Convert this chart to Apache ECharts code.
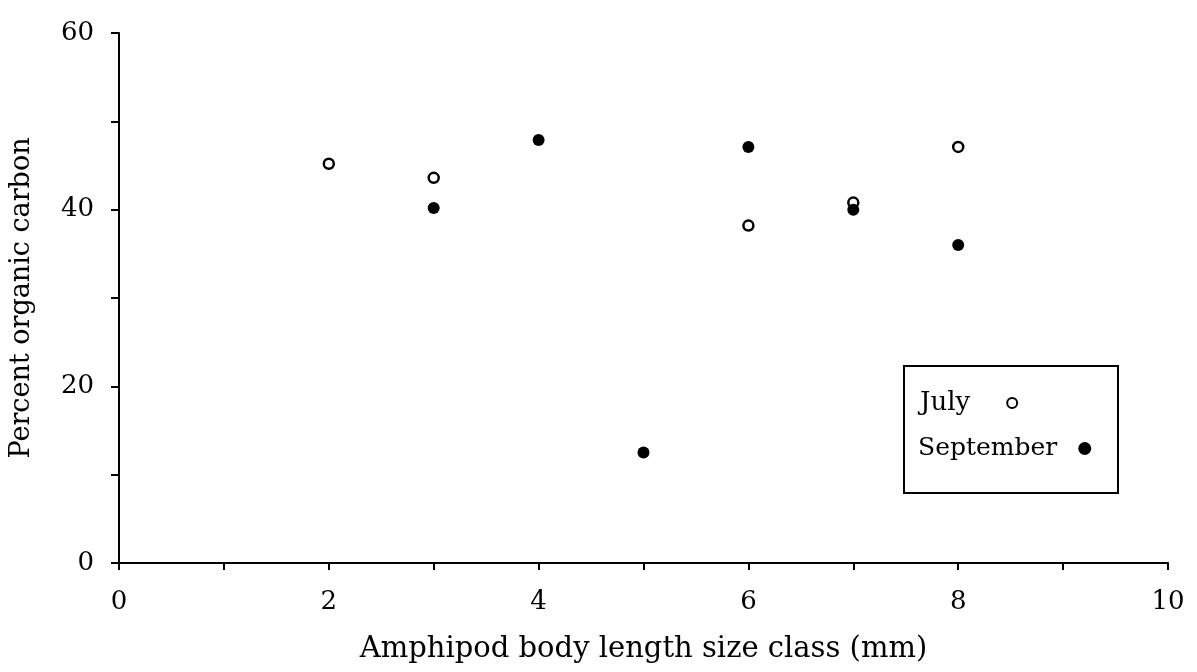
<!DOCTYPE html>
<html><head><meta charset="utf-8">
<script src="https://cdn.jsdelivr.net/npm/echarts@6/dist/echarts.min.js"></script>
<style>html,body{margin:0;padding:0;background:#fff}#c{width:1197px;height:672px}</style>
</head><body><div id="c"></div>
<script>
const julyX = [2, 3, 6, 7, 8];
const julyY = [45.2, 43.6, 38.2, 40.8, 47.1];
const septX = [3, 4, 5, 6, 7, 8];
const septY = [40.2, 47.9, 12.5, 47.1, 40.0, 36.0];
const xTickLabels = ['0', '2', '4', '6', '8', '10'];
const yTickLabels = ['0', '20', '40', '60'];

const FONT = '"DejaVu Serif", "Liberation Serif", serif';
const chart = echarts.init(document.getElementById('c'));
chart.setOption({
  backgroundColor: '#fff',
  animation: false,
  grid: { left: 117, right: 29, top: 33, bottom: 109 },
  xAxis: {
    type: 'value', min: 0, max: 10, interval: 1,
    name: 'Amphipod body length size class (mm)',
    nameLocation: 'middle', nameGap: 72,
    nameTextStyle: { fontFamily: FONT, fontSize: 29, color: '#000' },
    axisLine: { show: true, lineStyle: { color: '#000', width: 2 } },
    axisTick: { show: true, length: 7, lineStyle: { color: '#000', width: 2 } },
    axisLabel: { fontFamily: FONT, fontSize: 26, color: '#000', margin: 26,
      formatter: v => xTickLabels.includes(String(v)) ? String(v) : '' },
    splitLine: { show: false }
  },
  yAxis: {
    type: 'value', min: 0, max: 60, interval: 10,
    name: 'Percent organic carbon',
    nameLocation: 'middle', nameGap: 84,
    nameTextStyle: { fontFamily: FONT, fontSize: 27, color: '#000' },
    axisLine: { show: true, lineStyle: { color: '#000', width: 2 } },
    axisTick: { show: true, length: 8, lineStyle: { color: '#000', width: 2 } },
    axisLabel: { fontFamily: FONT, fontSize: 26, color: '#000', margin: 25,
      formatter: v => yTickLabels.includes(String(v)) ? String(v) : '' },
    splitLine: { show: false }
  },
  graphic: [{
    type: 'rect', z: 3, left: 903, top: 365,
    shape: { width: 214, height: 127 },
    style: { fill: '#fff', stroke: '#000', lineWidth: 2 }
  }],
  legend: [
    { z: 6, orient: 'vertical', left: 920, top: 390, align: 'right', padding: 0,
      itemWidth: 10, itemHeight: 10,
      textStyle: { fontFamily: FONT, fontSize: 26, color: '#000', padding: [0, 32, 0, 0] },
      data: [{ name: 'July', icon: 'circle', itemStyle: { color: '#fff', borderColor: '#000', borderWidth: 2 } }] },
    { z: 6, orient: 'vertical', left: 918, top: 436, align: 'right', padding: 0,
      itemWidth: 13, itemHeight: 13,
      textStyle: { fontFamily: FONT, fontSize: 25, color: '#000', padding: [0, 16, 0, 0] },
      data: [{ name: 'September', icon: 'circle' }] }
  ],
  series: [
    { name: 'July', type: 'scatter', symbol: 'circle', symbolSize: 10,
      itemStyle: { color: '#fff', borderColor: '#000', borderWidth: 2.5, opacity: 1 },
      data: julyX.map((x, i) => [x, julyY[i]]) },
    { name: 'September', type: 'scatter', symbol: 'circle', symbolSize: 12,
      itemStyle: { color: '#000', opacity: 1 },
      data: septX.map((x, i) => [x, septY[i]]) }
  ]
});
</script></body></html>
